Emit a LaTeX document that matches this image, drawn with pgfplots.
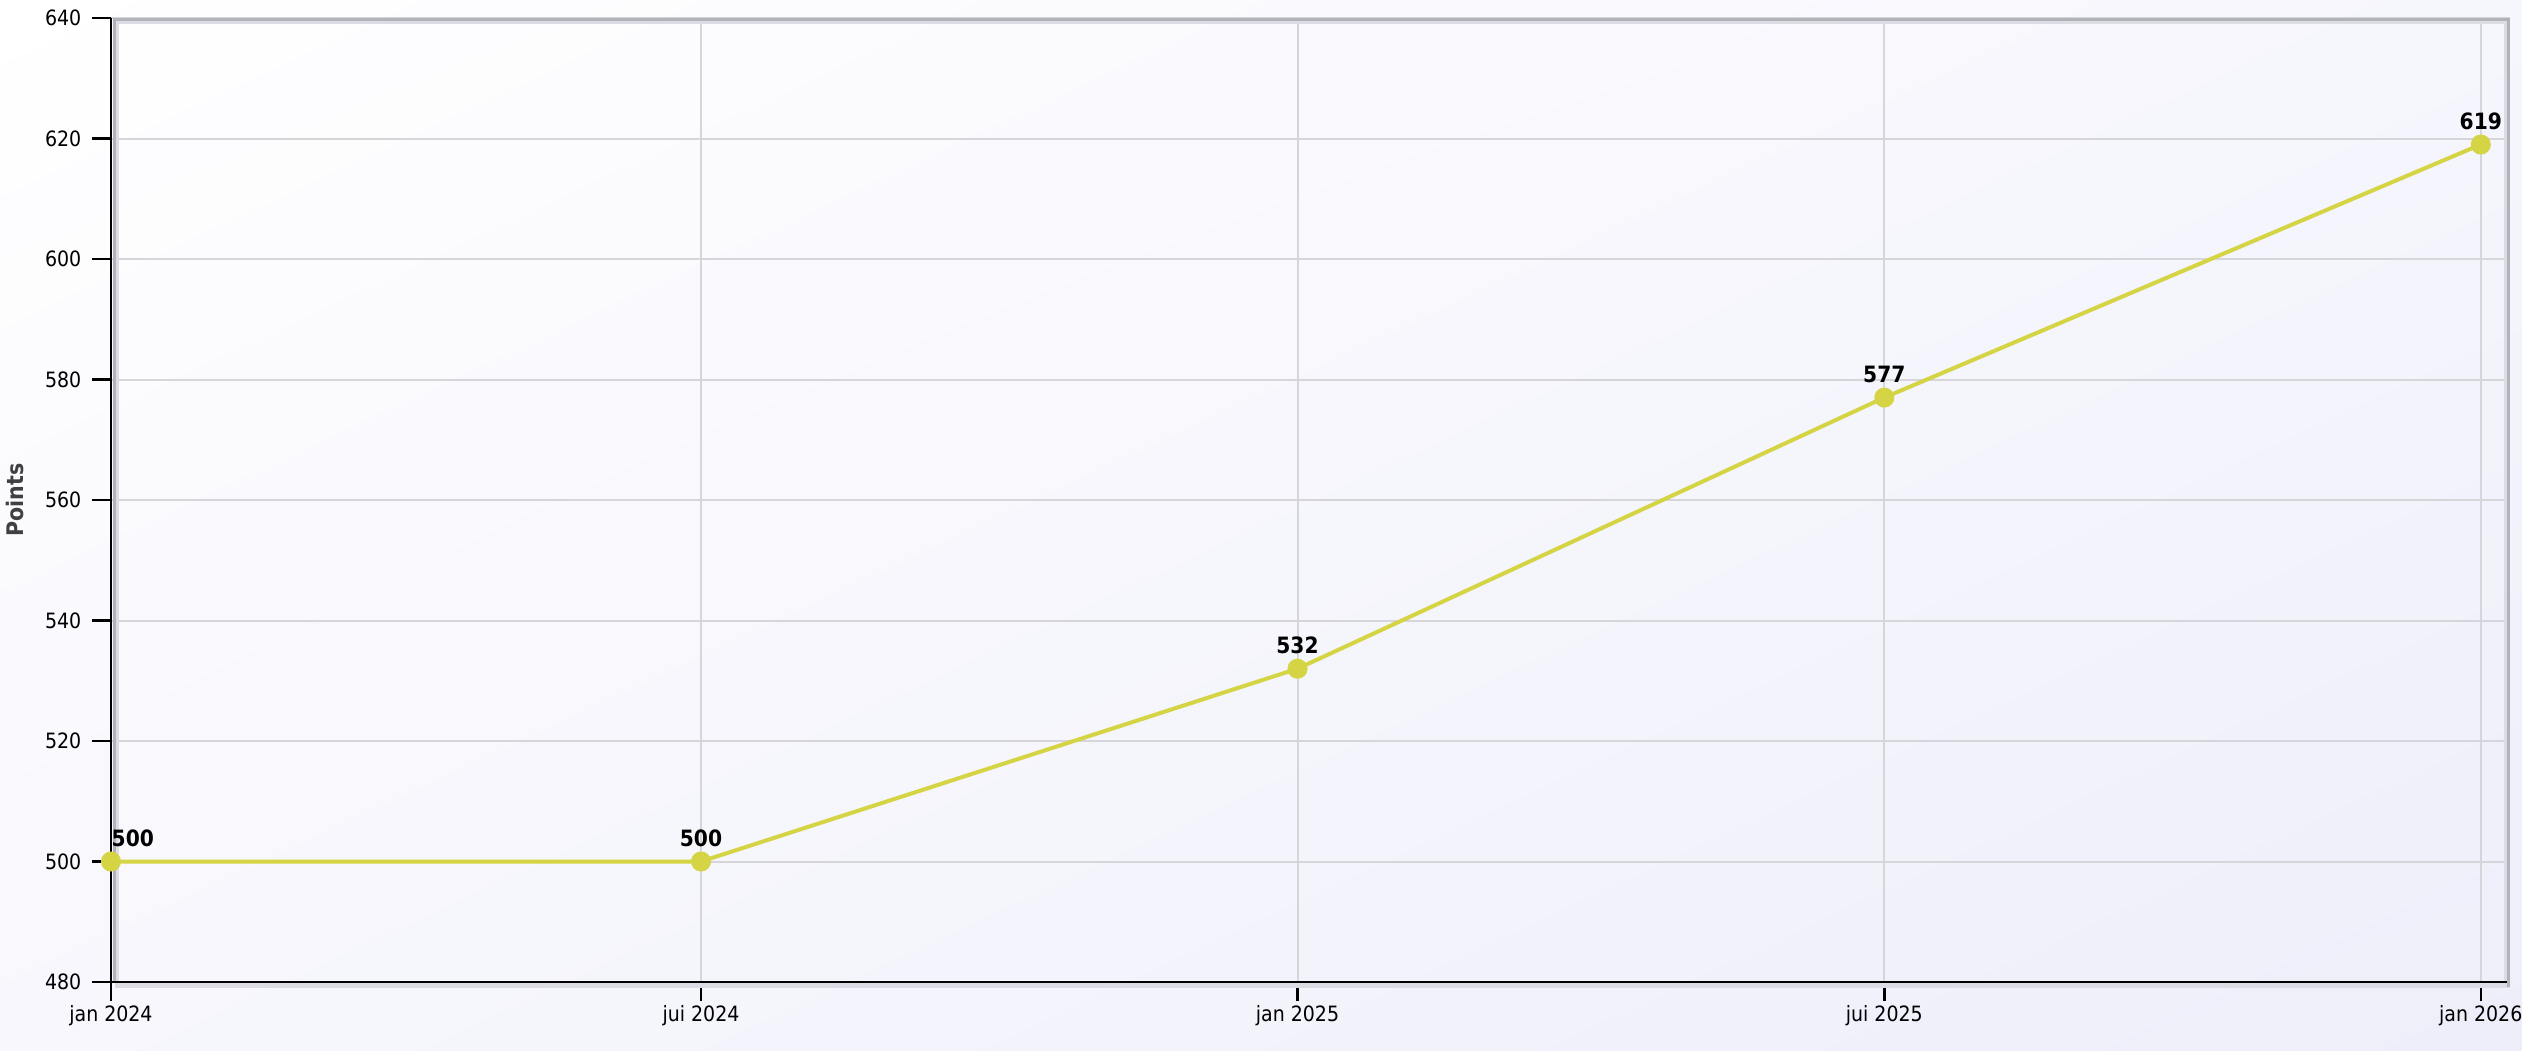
\documentclass[border=0pt]{standalone}
\usepackage{fontspec}
\setmainfont{DejaVu Sans Condensed}
\usepackage{pgfplots}
\pgfplotsset{compat=1.18}
\usetikzlibrary{calc,shadings}
\definecolor{lineC}{RGB}{212,212,68}
\definecolor{gridC}{RGB}{214,214,218}
\definecolor{frameA}{RGB}{178,178,186}
\definecolor{frameB}{RGB}{220,220,228}
\definecolor{bgTR}{RGB}{246,246,253}
\definecolor{bgBL}{RGB}{247,247,253}
\definecolor{bgBR}{RGB}{238,238,250}
\begin{document}
\begin{tikzpicture}
\useasboundingbox (-11.1mm,-6.8mm) rectangle (241.1mm,98.2mm);
\shade[upper left=white, upper right=bgTR, lower left=bgBL, lower right=bgBR] (-11.1mm,-6.8mm) rectangle (241.1mm,98.2mm);
\begin{axis}[
  at={(0,0)}, anchor=south west,
  scale only axis, width=239.9mm, height=96.4mm,
  xmin=0, xmax=740, ymin=480, ymax=640,
  ytick={480,500,...,640},
  xtick={0,182,366,547,731},
  xticklabels={jan 2024, jui 2024, jan 2025, jui 2025, jan 2026},
  grid=major, grid style={gridC, line width=0.2mm},
  axis x line*=bottom, axis y line*=left,
  axis line style={black, line width=0.25mm},
  tick style={black, line width=0.25mm},
  major tick length=1.9mm, tick align=outside,
  /pgf/number format/assume math mode=true,
  ticklabel style={font=\fontsize{6}{7}\selectfont, text=black},
  yticklabel style={inner sep=0pt, xshift=-1mm},
  xticklabel style={inner sep=0pt, yshift=-0.4mm},
  ylabel={Points},
  every axis y label/.style={at={(rel axis cs:0,0.5)}, xshift=-9.6mm, rotate=90, anchor=center,
     font=\bfseries\fontsize{6.5}{8}\selectfont, text=black!75},
  clip=false,
]
\draw[frameB, line width=0.45mm] ($(rel axis cs:0,0)+(0.38mm,-0.35mm)$) -- ($(rel axis cs:1,0)+(0mm,-0.35mm)$);
\draw[frameA, line width=0.3mm] ($(rel axis cs:0,0)+(0.3mm,0.15mm)$) -- ($(rel axis cs:0,1)+(0.3mm,-0.15mm)$)
  -- ($(rel axis cs:1,1)+(-0.15mm,-0.15mm)$) -- ($(rel axis cs:1,0)+(-0.15mm,-0.5mm)$);
\draw[frameB, line width=0.3mm] ($(rel axis cs:0,0)+(0.6mm,0.15mm)$) -- ($(rel axis cs:0,1)+(0.6mm,-0.45mm)$)
  -- ($(rel axis cs:1,1)+(-0.45mm,-0.45mm)$) -- ($(rel axis cs:1,0)+(-0.45mm,0.15mm)$);
\addplot[lineC, line width=0.4mm, mark=*, mark size=0.8mm, mark options={fill=lineC, draw=lineC}]
  coordinates {(0,500) (182,500) (366,532) (547,577) (731,619)};
\addplot[draw=none, nodes near coords, point meta=explicit symbolic,
  every node near coord/.append style={anchor=south, inner sep=0pt, yshift=1.4mm, font=\bfseries\fontsize{6.4}{8}\selectfont, text=black}]
  coordinates {(182,500) [500] (366,532) [532] (547,577) [577] (731,619) [619]};
\addplot[draw=none, nodes near coords, point meta=explicit symbolic,
  every node near coord/.append style={anchor=south west, inner sep=0pt, yshift=1.4mm, font=\bfseries\fontsize{6.4}{8}\selectfont, text=black}]
  coordinates {(0,500) [500]};
\end{axis}
\end{tikzpicture}
\end{document}
